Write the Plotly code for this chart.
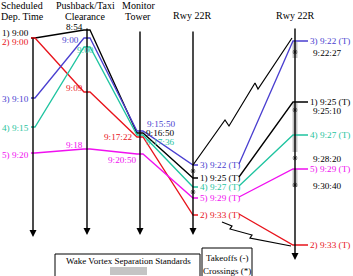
import plotly.graph_objects as go

# ---------------- data (diagram) ----------------
station_head1 = ["Scheduled", "Pushback/Taxi", "Monitor", "", ""]
station_head2 = ["Dep. Time", "Clearance", "Tower", "Rwy 22R", "Rwy 22R"]
station_x = [33, 87, 140, 193, 295]
station_top = [37, 27, 30, 30, 27]
station_bottom = [237, 235, 235, 235, 260]

flight_ids = ["1", "2", "3", "4", "5"]
colors = ["#000000", "#e8141c", "#4a3fd0", "#1fc4a0", "#f010f0"]
sched_text = ["1) 9:00", "2) 9:00", "3) 9:10", "4) 9:15", "5) 9:20"]
sched_y = [38, 38, 98, 127, 153]
push_text = ["8:54", "9:09", "9:00", "9:00", "9:18"]
push_y = [30, 92, 38, 47, 149]
tower_text = ["9:16:50", "9:17:22", "9:15:50", "9:17:36", "9:20:50"]
tower_y = [133, 137, 131, 135, 154]
rwy_text = ["1) 9:25 (T)", "2) 9:33 (T)", "3) 9:22 (T)", "4) 9:27 (T)", "5) 9:29 (T)"]
rwy_y = [178, 215, 165, 187, 198]
takeoff_y = [102, 245, 41, 135, 169]
crossing_text = ["9:22:27", "9:25:10", "9:28:20", "9:30:40"]
crossing_y = [52, 110, 158, 185]
rwy_crossing_y = [171, 192]
wake_start = [42, 103, 169]
wake_end = [58, 152, 187]

# --------------- label placement (style) ----------------
FONT = "Liberation Serif, Times New Roman, DejaVu Serif, serif"
LBL = 9.2
sched_dy = [-5, 4, 1, 1, 2]
push_place = [("right", -2, -3), ("right", -2, -4), ("right", -6, 2), ("center", -2, 3), ("right", -2, -4)]
tower_place = [("left", 4, 0), ("right", -6, 0), ("left", 5, -7), ("left", 4, 7), ("right", -2, 6)]

fig = go.Figure()

def line(xs, ys, color, width=1.3):
    fig.add_trace(go.Scatter(x=xs, y=ys, mode="lines", line=dict(color=color, width=width),
                             hoverinfo="skip", showlegend=False))

# wake vortex bars
for s, e in zip(wake_start, wake_end):
    fig.add_shape(type="rect", x0=station_x[4] - 2.5, x1=station_x[4] + 2.5, y0=s, y1=e,
                  xref="x", yref="y", fillcolor="#c4c4c4", line=dict(width=0), layer="below")

# station axes with arrows
for sx, top, bot in zip(station_x, station_top, station_bottom):
    fig.add_annotation(x=sx, y=bot, ax=sx, ay=top, xref="x", yref="y", axref="x", ayref="y",
                       showarrow=True, arrowhead=2, arrowsize=1, arrowwidth=1.4, arrowcolor="#000",
                       text="")
head_x = [22, 85, 138, 192, 295]
for hx, h1, h2 in zip(head_x, station_head1, station_head2):
    if h1:
        fig.add_annotation(x=hx, y=5, text=h1, showarrow=False, xref="x", yref="y",
                           font=dict(family=FONT, size=10, color="#000"))
        fig.add_annotation(x=hx, y=16.5, text=h2, showarrow=False, xref="x", yref="y",
                           font=dict(family=FONT, size=10, color="#000"))
    else:
        fig.add_annotation(x=hx, y=15, text=h2, showarrow=False, xref="x", yref="y",
                           font=dict(family=FONT, size=10, color="#000"))

# flight paths
for i in range(5):
    c = colors[i]
    xs = [station_x[0] - 2, station_x[0] + 2,
          station_x[1] - 3, station_x[1] + 3,
          station_x[2] - 3, station_x[2] + 3,
          station_x[3], station_x[3] + 5]
    ys = [sched_y[i], sched_y[i], push_y[i], push_y[i], tower_y[i], tower_y[i], rwy_y[i], rwy_y[i]]
    line(xs, ys, c)
    # takeoff leg to second runway column
    line([station_x[3] + 46, station_x[4] - 2, station_x[4] + 13],
         [rwy_y[i] - 1, takeoff_y[i], takeoff_y[i]], c)

    # labels
    fig.add_annotation(x=station_x[0] - 2, y=sched_y[i] + sched_dy[i], text=sched_text[i],
                       xanchor="right", showarrow=False, font=dict(family=FONT, size=LBL, color=c))
    a, dx, dy = push_place[i]
    fig.add_annotation(x=station_x[1] + dx, y=push_y[i] + dy, text=push_text[i], xanchor=a,
                       showarrow=False, font=dict(family=FONT, size=LBL, color=c))
    a, dx, dy = tower_place[i]
    fig.add_annotation(x=station_x[2] + dx, y=tower_y[i] + dy, text=tower_text[i], xanchor=a,
                       showarrow=False, font=dict(family=FONT, size=LBL, color=c))
    fig.add_annotation(x=station_x[3] + 5, y=rwy_y[i], text=rwy_text[i], xanchor="left",
                       showarrow=False, font=dict(family=FONT, size=LBL, color=c))
    fig.add_annotation(x=station_x[4] + 13, y=takeoff_y[i], text=rwy_text[i], xanchor="left",
                       showarrow=False, font=dict(family=FONT, size=LBL, color=c))

# crossing times
for t, cy in zip(crossing_text, crossing_y):
    fig.add_annotation(x=station_x[4] + 16, y=cy + 1, text=t, xanchor="left", showarrow=False,
                       font=dict(family=FONT, size=LBL, color="#000"))
fig.add_trace(go.Scatter(x=[station_x[4]] * len(crossing_y), y=crossing_y, mode="markers",
                         marker=dict(symbol="asterisk", size=4, line=dict(width=0.8, color="#333")),
                         hoverinfo="skip", showlegend=False))
fig.add_trace(go.Scatter(x=[station_x[3]] * len(rwy_crossing_y), y=rwy_crossing_y, mode="markers",
                         marker=dict(symbol="asterisk", size=4, line=dict(width=0.8, color="#333")),
                         hoverinfo="skip", showlegend=False))

# crossing "lightning" connectors
line([193, 225, 229, 255, 258, 292], [165, 120, 126, 83, 89, 38], "#000", 1.2)
line([222, 232, 230, 252, 250, 291], [222, 226, 229, 235, 238, 246], "#000", 1.2)

# legend boxes
fig.add_shape(type="rect", x0=55, x1=200, y0=254, y1=280, xref="x", yref="y",
              line=dict(color="#000", width=1), fillcolor="white")
fig.add_shape(type="rect", x0=110, x1=147, y0=267, y1=275, xref="x", yref="y",
              line=dict(width=0), fillcolor="#c4c4c4")
fig.add_annotation(x=128, y=261, text="Wake Vortex Separation Standards", showarrow=False,
                   font=dict(family=FONT, size=9, color="#000"))
fig.add_shape(type="rect", x0=202, x1=252, y0=248, y1=280, xref="x", yref="y",
              line=dict(color="#000", width=1), fillcolor="white")
fig.add_annotation(x=227, y=258, text="Takeoffs (-)", showarrow=False,
                   font=dict(family=FONT, size=9, color="#000"))
fig.add_annotation(x=227, y=271, text="Crossings (*)", showarrow=False,
                   font=dict(family=FONT, size=9, color="#000"))

fig.update_layout(
    width=353, height=276, margin=dict(l=0, r=0, t=0, b=0),
    paper_bgcolor="white", plot_bgcolor="white",
    xaxis=dict(range=[0, 353], visible=False, fixedrange=True),
    yaxis=dict(range=[276, 0], visible=False, fixedrange=True),
    showlegend=False,
)
fig.write_html("out.html")
